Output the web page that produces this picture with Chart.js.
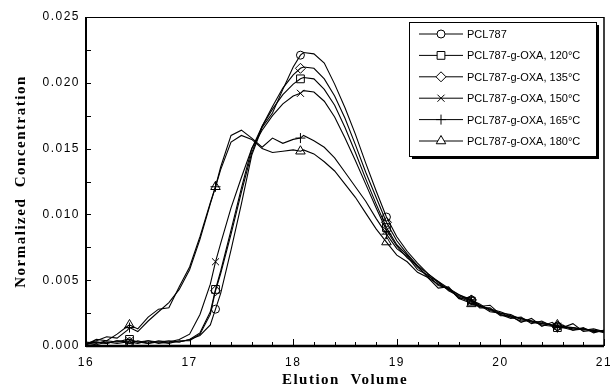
<!DOCTYPE html>
<html>
<head>
<meta charset="utf-8">
<script src="https://cdn.jsdelivr.net/npm/chart.js@4.4.1/dist/chart.umd.min.js"></script>
<style>
  html, body { margin: 0; padding: 0; background: #fff; }
</style>
</head>
<body>
<canvas id="chart" width="610" height="388"></canvas>
<script>
// elution volumes (marker positions included)
const elution = [16.0,16.1,16.2,16.3,16.4,16.42,16.5,16.6,16.7,16.8,16.9,17.0,17.1,17.2,17.25,17.3,17.4,17.5,17.6,17.7,17.8,17.9,18.0,18.07,18.1,18.2,18.3,18.4,18.5,18.6,18.7,18.8,18.9,19.0,19.1,19.2,19.3,19.4,19.5,19.6,19.7,19.72,19.8,19.9,20.0,20.1,20.2,20.3,20.4,20.5,20.55,20.6,20.7,20.8,20.9,21.0];
const markerAt = [16.42, 17.25, 18.07, 18.9, 19.72, 20.55];

const pcl787 = [0.0002,0.0001,0.0003,0.0002,0.0003,0.0002,0.0004,0.0002,0.0003,0.0004,0.0003,0.0005,0.0008,0.0016,
  0.0028,0.0040,0.0073,0.0108,0.0145,0.0166,0.0177,0.0195,0.0212,0.0221,0.0223,0.0222,0.0215,0.0199,0.0181,0.0161,0.0139,0.0118,0.0098,
  0.0083,0.0072,0.0063,0.0055,0.0049,0.0044,0.0039,0.0036,0.0035,0.0031,0.0028,0.0026,0.0023,0.0021,0.0019,0.0018,0.0016,0.0015,0.0015,0.0014,0.0013,0.0012,0.0011];
const oxa120 = [0.0003,0.0002,0.0004,0.0003,0.0005,0.0005,0.0003,0.0002,0.0004,0.0003,0.0003,0.0005,0.0010,0.0026,
  0.0043,0.0057,0.0088,0.0120,0.0150,0.0167,0.0180,0.0191,0.0199,0.0203,0.0204,0.0203,0.0195,0.0183,0.0166,0.0147,0.0127,0.0108,0.0090,
  0.0077,0.0069,0.0060,0.0053,0.0049,0.0042,0.0038,0.0035,0.0034,0.0030,0.0028,0.0024,0.0022,0.0021,0.0018,0.0017,0.0016,0.0014,0.0015,0.0013,0.0013,0.0011,0.0012];
const oxa135 = [0.0001,0.0003,0.0002,0.0004,0.0003,0.0003,0.0002,0.0004,0.0003,0.0002,0.0004,0.0004,0.0009,0.0024,
  0.0042,0.0055,0.0085,0.0117,0.0147,0.0167,0.0182,0.0196,0.0206,0.0211,0.0212,0.0211,0.0203,0.0190,0.0173,0.0153,0.0132,0.0113,0.0094,
  0.0080,0.0070,0.0061,0.0055,0.0048,0.0043,0.0039,0.0035,0.0035,0.0032,0.0027,0.0025,0.0024,0.0020,0.0019,0.0017,0.0016,0.0015,0.0014,0.0014,0.0012,0.0013,0.0011];
const oxa150 = [0.0002,0.0003,0.0002,0.0004,0.0003,0.0004,0.0003,0.0004,0.0002,0.0003,0.0005,0.0009,0.0024,0.0047,
  0.0064,0.0078,0.0105,0.0128,0.0150,0.0164,0.0175,0.0184,0.0190,0.0192,0.0194,0.0193,0.0186,0.0174,0.0158,0.0141,0.0123,0.0105,0.0088,
  0.0076,0.0067,0.0061,0.0052,0.0047,0.0043,0.0037,0.0034,0.0034,0.0031,0.0026,0.0025,0.0022,0.0019,0.0019,0.0016,0.0015,0.0015,0.0014,0.0012,0.0013,0.0011,0.0011];
const oxa165 = [0.0002,0.0004,0.0007,0.0006,0.0012,0.0014,0.0011,0.0019,0.0026,0.0033,0.0043,0.0058,0.0081,0.0108,
  0.0121,0.0136,0.0160,0.0164,0.0158,0.0151,0.0158,0.0154,0.0157,0.0158,0.0160,0.0156,0.0151,0.0143,0.0132,0.0121,0.0110,0.0097,0.0085,
  0.0074,0.0068,0.0058,0.0054,0.0046,0.0044,0.0036,0.0037,0.0035,0.0029,0.0029,0.0023,0.0023,0.0018,0.0021,0.0015,0.0018,0.0014,0.0016,0.0012,0.0014,0.0010,0.0012];
const oxa180 = [0.0001,0.0005,0.0004,0.0009,0.0015,0.0016,0.0013,0.0022,0.0028,0.0029,0.0045,0.0060,0.0083,0.0109,
  0.0121,0.0134,0.0155,0.0160,0.0157,0.0150,0.0147,0.0148,0.0149,0.0148,0.0149,0.0146,0.0140,0.0133,0.0123,0.0113,0.0101,0.0089,0.0079,
  0.0069,0.0064,0.0056,0.0052,0.0044,0.0045,0.0036,0.0033,0.0032,0.0030,0.0031,0.0024,0.0021,0.0022,0.0017,0.0019,0.0015,0.0016,0.0014,0.0017,0.0011,0.0012,0.0010];

const seriesLabels = ['PCL787', 'PCL787-g-OXA, 120°C', 'PCL787-g-OXA, 135°C',
  'PCL787-g-OXA, 150°C', 'PCL787-g-OXA, 165°C', 'PCL787-g-OXA, 180°C'];
const seriesValues = [pcl787, oxa120, oxa135, oxa150, oxa165, oxa180];
const xTicks = [16, 17, 18, 19, 20, 21];
const yTicks = [0, 0.005, 0.010, 0.015, 0.020, 0.025];

const markerStyles = [
  { style: 'circle', r: 4 },
  { style: 'rect', r: 5.5 },
  { style: 'rectRot', r: 5 },
  { style: 'crossRot', r: 5 },
  { style: 'cross', r: 5 },
  { style: 'triangle', r: 5.5 }
];

function isMarker(i) {
  return markerAt.includes(elution[i]);
}

const datasets = seriesValues.map((vals, s) => ({
  label: seriesLabels[s],
  data: vals.map((v, i) => ({ x: elution[i], y: v })),
  borderColor: '#000',
  borderWidth: 1.1,
  backgroundColor: 'rgba(0,0,0,0)',
  pointStyle: markerStyles[s].style,
  pointRadius: ctx => isMarker(ctx.dataIndex) ? markerStyles[s].r : 0,
  pointBorderColor: '#000',
  pointBorderWidth: 1,
  tension: 0
}));

// spaced-out text like the scanned figure
const spacing = {
  id: 'spacing',
  beforeDraw(chart) { chart.ctx.letterSpacing = '1.5px'; },
  afterDatasetsDraw(chart) { chart.ctx.letterSpacing = '0px'; }
};

// frame, inward tick marks and boxed legend
const decor = {
  id: 'decor',
  afterDraw(chart) {
    const ctx = chart.ctx;
    const a = chart.chartArea;
    const xs = chart.scales.x, ys = chart.scales.y;
    ctx.save();
    ctx.strokeStyle = '#000';

    // frame
    ctx.lineWidth = 1;
    ctx.beginPath(); ctx.moveTo(a.left, a.top + 0.5); ctx.lineTo(a.right, a.top + 0.5); ctx.stroke();
    ctx.lineWidth = 1.5;
    ctx.beginPath(); ctx.moveTo(a.right, a.top); ctx.lineTo(a.right, a.bottom); ctx.stroke();
    ctx.lineWidth = 2;
    ctx.beginPath(); ctx.moveTo(a.left, a.top); ctx.lineTo(a.left, a.bottom + 1); ctx.stroke();
    ctx.lineWidth = 2.5;
    ctx.beginPath(); ctx.moveTo(a.left, a.bottom); ctx.lineTo(a.right, a.bottom); ctx.stroke();

    // tick marks
    ctx.lineWidth = 1;
    for (let v = 16; v <= 21.001; v += 0.2) {
      const px = Math.round(xs.getPixelForValue(v)) + 0.5;
      const major = Math.abs(v - Math.round(v)) < 0.01;
      ctx.beginPath(); ctx.moveTo(px, a.bottom); ctx.lineTo(px, a.bottom - (major ? 7 : 4)); ctx.stroke();
    }
    for (let v = 0; v <= 0.0251; v += 0.0025) {
      const py = Math.round(ys.getPixelForValue(v)) + 0.5;
      ctx.beginPath(); ctx.moveTo(a.left, py); ctx.lineTo(a.left + 5, py); ctx.stroke();
    }

    // legend box with shadow
    const bx = 409, by = 22, bw = 187, bh = 134;
    ctx.fillStyle = '#000';
    ctx.fillRect(bx + 3, by + 3, bw, bh);
    ctx.fillStyle = '#fff';
    ctx.fillRect(bx, by, bw, bh);
    ctx.lineWidth = 1;
    ctx.strokeRect(bx + 0.5, by + 0.5, bw, bh);

    ctx.font = '11px "Liberation Sans", Arial, sans-serif';
    ctx.textBaseline = 'middle';
    ctx.textAlign = 'left';
    seriesLabels.forEach((label, s) => {
      const y = by + 12 + s * 21.4;
      ctx.strokeStyle = '#000';
      ctx.lineWidth = 1;
      ctx.beginPath(); ctx.moveTo(419, y); ctx.lineTo(463, y); ctx.stroke();
      ctx.fillStyle = '#fff';
      Chart.helpers.drawPoint(ctx, {
        pointStyle: markerStyles[s].style,
        radius: markerStyles[s].r,
        borderWidth: 1,
        rotation: 0
      }, 441, y);
      ctx.fillStyle = '#000';
      ctx.fillText(label, 467, y + 1);
    });
    ctx.restore();
  }
};

new Chart(document.getElementById('chart'), {
  type: 'line',
  data: { datasets: datasets },
  options: {
    responsive: false,
    animation: false,
    layout: { padding: { left: 0, right: 6, top: 17, bottom: 0 } },
    plugins: {
      legend: { display: false },
      tooltip: { enabled: false }
    },
    scales: {
      x: {
        type: 'linear',
        min: 16,
        max: 21,
        afterFit: scale => { scale.height = 42; scale.paddingLeft = 0; scale.paddingRight = 0; },
        afterBuildTicks: scale => { scale.ticks = xTicks.map(v => ({ value: v })); },
        grid: { display: false, drawTicks: false },
        border: { display: false },
        ticks: {
          padding: 9,
          color: '#000',
          font: { family: '"Liberation Sans", Arial, sans-serif', size: 12 },
          callback: v => String(v),
          maxRotation: 0
        },
        title: {
          display: true,
          text: 'Elution  Volume',
          color: '#000',
          font: { family: '"Liberation Serif", "Times New Roman", serif', size: 15, weight: 'bold', lineHeight: 1 },
          padding: { top: 0, bottom: 0 }
        }
      },
      y: {
        min: 0,
        max: 0.025,
        afterFit: scale => { scale.width = 86; },
        afterBuildTicks: scale => { scale.ticks = yTicks.map(v => ({ value: v })); },
        grid: { display: false, drawTicks: false },
        border: { display: false },
        ticks: {
          padding: 6,
          color: '#000',
          font: { family: '"Liberation Sans", Arial, sans-serif', size: 12 },
          callback: v => v.toFixed(3)
        },
        title: {
          display: true,
          text: 'Normalized  Concentration',
          color: '#000',
          font: { family: '"Liberation Serif", "Times New Roman", serif', size: 15, weight: 'bold', lineHeight: 1 },
          padding: { top: 14, bottom: 0 }
        }
      }
    }
  },
  plugins: [spacing, decor]
});
</script>
</body>
</html>
